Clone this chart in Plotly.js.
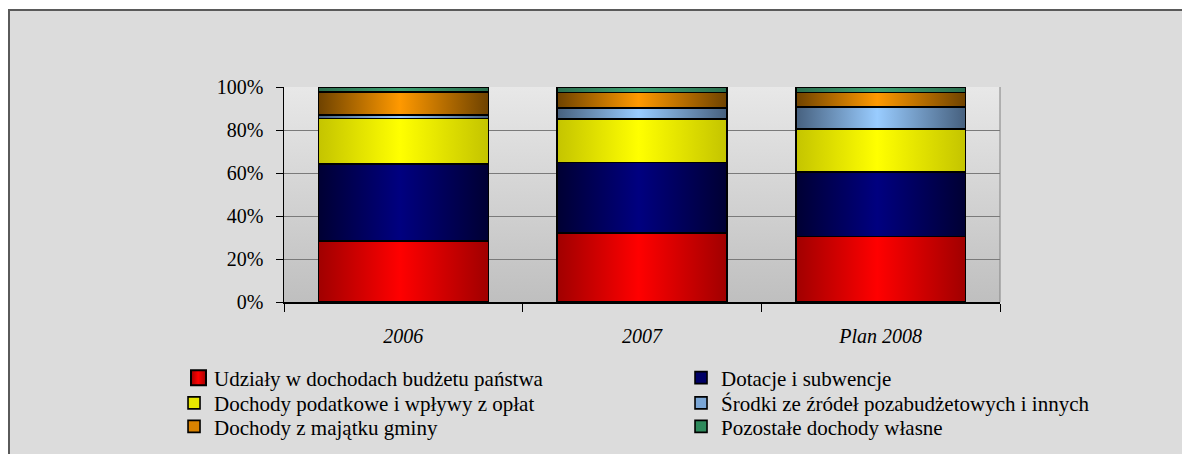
<!DOCTYPE html>
<html>
<head>
<meta charset="utf-8">
<script src="https://cdn.plot.ly/plotly-3.0.1.min.js"></script>
<style>
  html, body { margin: 0; padding: 0; background: #ffffff; width: 1182px; height: 454px; overflow: hidden; }
  #frame { position: absolute; left: 8px; top: 9px; width: 1174px; height: 445px;
           border-top: 2px solid #5a5a5a; border-left: 2px solid #5a5a5a; background: #dcdcdc; }
  #chart { width: 1172px; height: 443px; }
</style>
</head>
<body>
<div id="frame"><div id="chart"></div></div>
<script>
// ---- data (percent share of revenue) ----
const years = ['2006', '2007', 'Plan 2008'];
const seriesNames = [
  'Udziały w dochodach budżetu państwa',
  'Dotacje i subwencje',
  'Dochody podatkowe i wpływy z opłat',
  'Środki ze źródeł pozabudżetowych i innych',
  'Dochody z majątku gminy',
  'Pozostałe dochody własne'
];
const udzialy    = [28.5, 32.2, 30.4];
const dotacje    = [35.7, 32.6, 30.2];
const podatkowe  = [21.2, 20.3, 20.0];
const srodki     = [1.6, 5.0, 10.2];
const majatek    = [10.6, 7.4, 6.7];
const pozostale  = [2.4, 2.5, 2.5];
const yTickVals  = [0, 20, 40, 60, 80, 100];
const yTickText  = ['0%', '20%', '40%', '60%', '80%', '100%'];

// ---- styling ----
const values = [udzialy, dotacje, podatkowe, srodki, majatek, pozostale];
const flatColors = ['#e00000', '#000066', '#e6e600', '#7aa6d6', '#d98200', '#2e8a5c'];
const gradStops = [
  ['#a00000', '#ff0000', '#a00000'],
  ['#000033', '#000080', '#000033'],
  ['#c4c400', '#ffff00', '#c4c400'],
  ['#46607e', '#99ccff', '#46607e'],
  ['#6e4200', '#ff9900', '#6e4200'],
  ['#2a6e4e', '#3fa374', '#2a6e4e']
];
const serif = 'Liberation Serif';
// legend slots: two columns x three rows (paper coordinates)
const legendIds = ['legend', 'legend2', 'legend3', 'legend4', 'legend5', 'legend6'];
const legendX = [-0.1536, 0.5545, -0.1536, 0.5545, -0.1536, 0.5545];
const legendY = [-0.3535, -0.3535, -0.471, -0.471, -0.580, -0.580];

const traces = values.map((v, i) => ({
  type: 'bar',
  name: seriesNames[i],
  x: years,
  y: v,
  legend: legendIds[i],
  marker: { color: flatColors[i], line: { color: '#000000', width: 1.6 } },
  hoverinfo: 'skip'
}));

const layout = {
  width: 1172, height: 443,
  margin: { l: 274, r: 182, t: 76, b: 152, autoexpand: false },
  paper_bgcolor: '#dcdcdc',
  plot_bgcolor: '#d4d4d4',
  barmode: 'stack',
  bargap: 0.288,
  showlegend: true,
  font: { family: serif, size: 20, color: '#000000' },
  xaxis: {
    type: 'category',
    tickson: 'boundaries',
    ticks: 'outside', ticklen: 8, tickcolor: '#000000', tickwidth: 1,
    showline: true, linecolor: '#000000', linewidth: 1.5,
    showgrid: false,
    tickfont: { family: serif, size: 20, style: 'italic', color: '#000000' },
    ticklabelstandoff: 15,
    fixedrange: true
  },
  yaxis: {
    range: [0, 100],
    tickvals: yTickVals, ticktext: yTickText,
    ticks: 'outside', ticklen: 7, tickcolor: '#000000', tickwidth: 1,
    showline: true, linecolor: '#000000', linewidth: 1.5,
    showgrid: true, gridcolor: '#7a7a7a', gridwidth: 1,
    zeroline: false,
    tickfont: { family: serif, size: 20, color: '#000000' },
    ticklabelstandoff: 8,
    fixedrange: true
  },
  shapes: [
    { type: 'line', xref: 'paper', yref: 'paper', x0: 1, x1: 1, y0: 0, y1: 1,
      line: { color: '#808080', width: 1 }, layer: 'below' }
  ]
};
legendIds.forEach((id, i) => {
  layout[id] = {
    orientation: 'v',
    x: legendX[i], xanchor: 'left',
    y: legendY[i], yanchor: 'middle',
    itemwidth: 30,
    font: { family: serif, size: 21, color: '#000000' },
    bgcolor: 'rgba(0,0,0,0)',
    itemclick: false, itemdoubleclick: false
  };
});

const gd = document.getElementById('chart');
const svgNS = 'http://www.w3.org/2000/svg';

function applyGradients() {
  const mainSvg = gd.querySelector('svg.main-svg');
  if (!mainSvg) return;
  if (!document.getElementById('bggrad')) {
    const defs = document.createElementNS(svgNS, 'defs');
    mainSvg.insertBefore(defs, mainSvg.firstChild);
    const mk = (id, stops, vertical) => {
      const g = document.createElementNS(svgNS, 'linearGradient');
      g.setAttribute('id', id);
      g.setAttribute('x1', '0'); g.setAttribute('y1', '0');
      g.setAttribute('x2', vertical ? '0' : '1'); g.setAttribute('y2', vertical ? '1' : '0');
      const offs = stops.length === 3 ? [0, 0.48, 1] : [0, 1];
      stops.forEach((c, k) => {
        const s = document.createElementNS(svgNS, 'stop');
        s.setAttribute('offset', offs[k]);
        s.setAttribute('stop-color', c);
        g.appendChild(s);
      });
      defs.appendChild(g);
    };
    gradStops.forEach((s, i) => mk('bargrad' + i, s, false));
    mk('bggrad', ['#e8e8e8', '#bfbfbf'], true);
  }
  const bg = gd.querySelector('.bglayer rect.bg');
  if (bg) bg.style.fill = 'url(#bggrad)';

  gd.querySelectorAll('.barlayer .trace').forEach((tg, i) => {
    tg.querySelectorAll('path').forEach(p => { p.style.fill = 'url(#bargrad' + i + ')'; });
  });
  document.querySelectorAll('text.legendtext').forEach(txt => {
    let li = txt.parentNode;
    while (li && !(li.classList && li.classList.contains('traces'))) li = li.parentNode;
    if (!li) return;
    const idx = seriesNames.indexOf(txt.textContent);
    const pts = li.querySelector('.legendpoints');
    const path = pts ? pts.querySelector('path') : null;
    if (!pts || !path) return;
    pts.setAttribute('transform', 'scale(1.25)');
    const pr = path.getBoundingClientRect();
    const tr = txt.getBoundingClientRect();
    const shift = (tr.left - 15.5) - (pr.left + pr.width / 2);
    pts.setAttribute('transform', 'translate(' + shift.toFixed(2) + ',0) scale(1.25)');
    if (idx >= 0) path.style.fill = 'url(#bargrad' + idx + ')';
  });
}

let pending = false;
function schedule() {
  if (pending) return;
  pending = true;
  requestAnimationFrame(() => { pending = false; applyGradients(); });
}
new MutationObserver(schedule).observe(gd, { childList: true, subtree: true });

Plotly.newPlot(gd, traces, layout, { displayModeBar: false, staticPlot: true }).then(() => {
  applyGradients();
  gd.on('plotly_afterplot', applyGradients);
  [0, 20, 60, 150, 400, 1000].forEach(t => setTimeout(applyGradients, t));
});
</script>
</body>
</html>
